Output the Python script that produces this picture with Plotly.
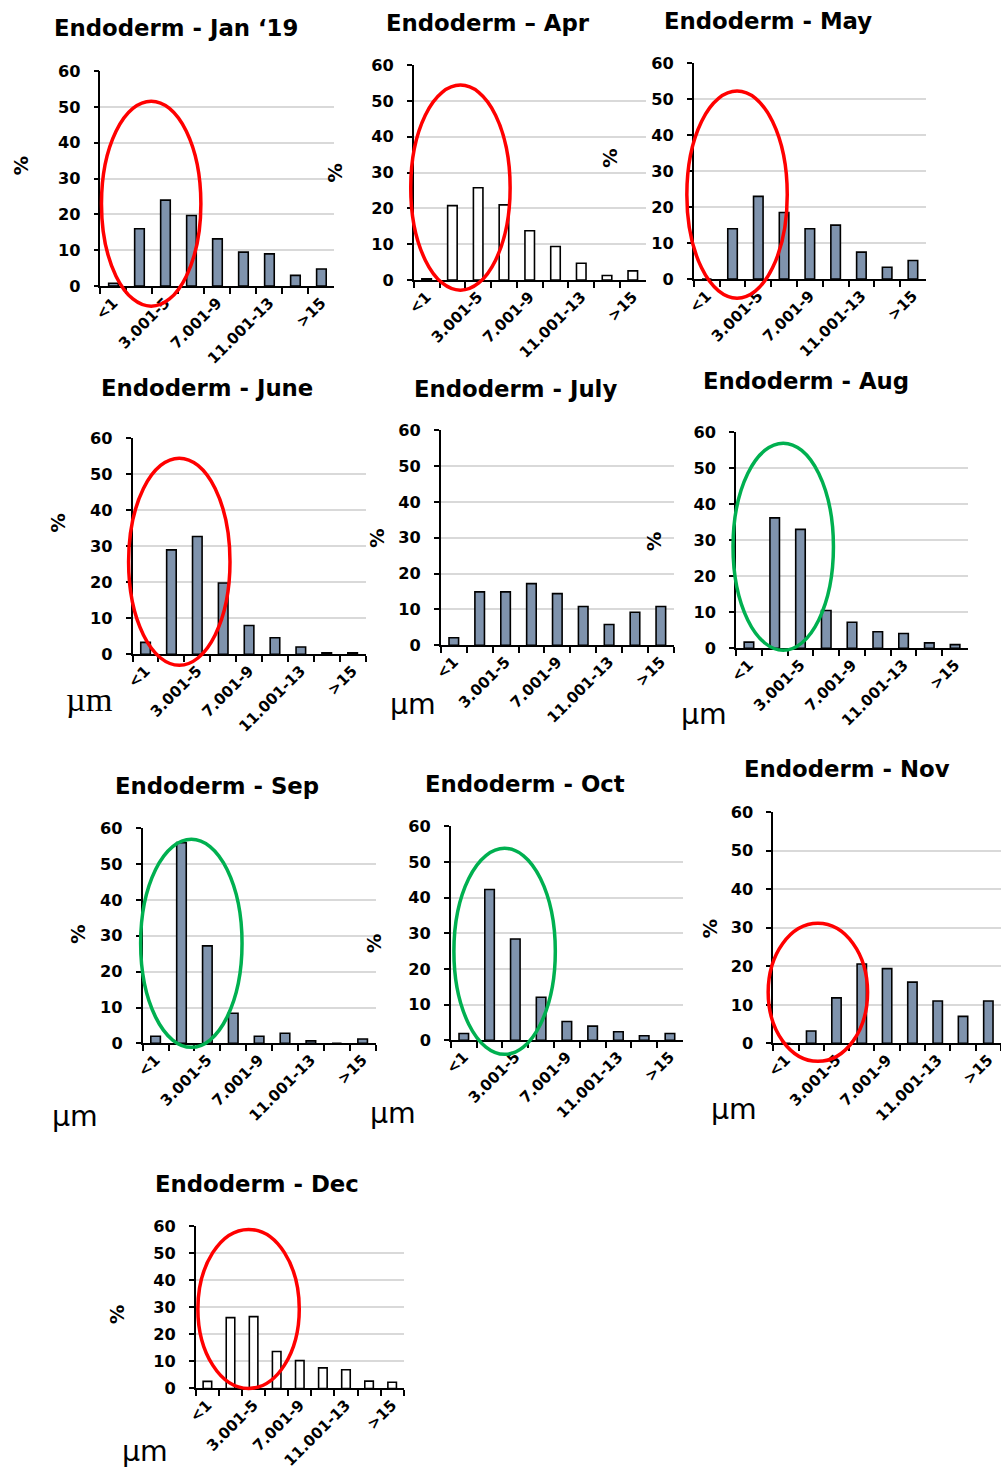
import plotly.graph_objects as go

# The rendered page is photographed with an 8px body margin and a slight
# (~0.987) down-scale; positions below are given in reference pixels and
# mapped to figure coordinates accordingly.
S, M = 0.987, 8
W, H = 1001, 1488


def fx(px):
    return (px / S - M) / W


def fy(py):
    return 1 - (py / S - M) / H


def clamp(v):
    return max(0.0, min(1.0, v))


def fs(size):
    return round(size / S, 1)


categories = ["<1", "1.001-3", "3.001-5", "5.001-7", "7.001-9",
              "9.001-11", "11.001-13", "13.001-15", ">15"]
tick_text = [c if i % 2 == 0 else "" for i, c in enumerate(categories)]

titles = ["Endoderm - Jan \u201819", "Endoderm \u2013 Apr", "Endoderm - May",
          "Endoderm - June", "Endoderm - July", "Endoderm - Aug",
          "Endoderm - Sep", "Endoderm - Oct", "Endoderm - Nov",
          "Endoderm - Dec"]

jan = [0.8, 16.0, 24.0, 19.7, 13.2, 9.5, 9.0, 3.0, 4.8]
apr = [0.4, 20.8, 25.8, 21.0, 13.8, 9.4, 4.7, 1.3, 2.6]
may = [0.0, 14.0, 23.0, 18.5, 14.0, 15.0, 7.5, 3.3, 5.2]
june = [3.3, 29.0, 32.7, 19.8, 8.0, 4.6, 2.0, 0.4, 0.4]
july = [2.1, 14.9, 14.9, 17.2, 14.4, 10.8, 5.8, 9.2, 10.8]
aug = [1.7, 36.2, 33.0, 10.5, 7.2, 4.6, 4.1, 1.5, 1.0]
sep = [2.0, 56.0, 27.2, 8.4, 2.0, 2.8, 0.7, 0.0, 1.2]
oct_ = [1.9, 42.3, 28.4, 12.1, 5.3, 4.0, 2.4, 1.3, 1.9]
nov = [0.0, 3.2, 11.8, 20.6, 19.4, 15.9, 11.0, 7.0, 11.0]
dec = [2.6, 26.2, 26.6, 13.7, 10.3, 7.6, 6.9, 2.7, 2.3]

series = [jan, apr, may, june, july, aug, sep, oct_, nov, dec]
hollow = [False, True, False, False, False, False, False, False, False, True]

# plot areas in reference pixels: (left, right, top(60), bottom(0))
boxes = [(99, 332, 70, 285), (411, 642, 64, 279), (690, 921, 62, 278),
         (131, 363, 437, 653), (438, 670, 429, 644), (732, 963, 431, 647),
         (141, 373, 827, 1042), (448, 679, 825, 1039), (769, 1000, 811, 1042),
         (194, 401, 1225, 1387)]
title_pos = [(174, 27), (485, 22), (764, 20), (205, 387), (512, 388), (802, 380),
             (215, 785), (522, 783), (843, 768), (255, 1183)]
pct_pos = [(20, 165), (333, 172), (607, 157), (57, 522), (375, 537), (651, 540),
           (77, 933), (372, 942), (706, 927), (116, 1313)]
um_pos = [None, None, None, (88, 698), (410, 703), (700, 713),
          (74, 1115), (390, 1112), (730, 1108), (143, 1450)]
# ellipses: (left, right, top, bottom, color)
RED, GREEN = "#ff0000", "#00b050"
ellipses = [(100, 199, 100, 305, RED), (408, 507, 84, 289, RED), (683, 783, 90, 297, RED),
            (127, 228, 457, 664, RED), (729, 829, 442, 649, GREEN),
            (139, 240, 838, 1046, GREEN), (451, 552, 847, 1053, GREEN),
            (764, 863, 922, 1060, RED), (196, 297, 1228, 1387, RED)]

FONT = "DejaVu Sans"
fig = go.Figure()
annotations = []
shapes = []

for i, vals in enumerate(series):
    n = "" if i == 0 else str(i + 1)
    xa, ya = "x" + n, "y" + n
    fig.add_trace(go.Bar(
        x=categories, y=vals, xaxis=xa, yaxis=ya, width=0.37,
        marker=dict(color="white" if hollow[i] else "#7f93ad",
                    line=dict(color="black", width=1.6)),
        showlegend=False))
    l, r, t, b = boxes[i]
    fig.layout["xaxis" + n] = dict(
        domain=[clamp(fx(l)), clamp(fx(r))], anchor=ya, type="category",
        categoryorder="array", categoryarray=categories,
        tickmode="array", tickvals=categories, ticktext=tick_text,
        tickson="boundaries", ticks="outside", ticklen=6, tickwidth=1.5,
        tickcolor="black", tickangle=-45, showline=True, linecolor="black",
        linewidth=1.5, showgrid=False, range=[-0.5, 8.5],
        tickfont=dict(family=FONT, size=fs(15), color="black", weight="bold"))
    fig.layout["yaxis" + n] = dict(
        domain=[clamp(fy(b)), clamp(fy(t))], anchor=xa, range=[0, 60], dtick=10,
        ticks="outside", ticklen=5, tickwidth=1.5, tickcolor="black",
        showline=True, linecolor="black", linewidth=1.5,
        showgrid=True, gridcolor="#d9d9d9", gridwidth=1.5, zeroline=False,
        ticklabelstandoff=10,
        tickfont=dict(family=FONT, size=fs(16), color="black", weight="bold"))
    tx, ty = title_pos[i]
    annotations.append(dict(text=titles[i], x=fx(tx), y=fy(ty), xref="paper",
                            yref="paper", showarrow=False, xanchor="center",
                            yanchor="middle",
                            font=dict(family=FONT, size=fs(22.5), color="black",
                                      weight="bold")))
    px, py = pct_pos[i]
    annotations.append(dict(text="%", x=fx(px), y=fy(py), xref="paper",
                            yref="paper", showarrow=False, textangle=-90,
                            xanchor="center", yanchor="middle",
                            font=dict(family=FONT, size=fs(19), color="black",
                                      weight="bold")))
    if um_pos[i]:
        ux, uy = um_pos[i]
        serif = (i == 3)
        annotations.append(dict(text="\u00b5m", x=fx(ux), y=fy(uy),
                                xref="paper", yref="paper", showarrow=False,
                                xanchor="center", yanchor="middle",
                                font=dict(family="Liberation Serif" if serif else FONT,
                                          size=fs(34 if serif else 28), color="black")))

for (l, r, t, b, c) in ellipses:
    shapes.append(dict(type="circle", xref="paper", yref="paper",
                       x0=fx(l), x1=fx(r), y0=fy(b), y1=fy(t),
                       line=dict(color=c, width=3.5), fillcolor="rgba(0,0,0,0)"))

fig.update_layout(width=W, height=H, margin=dict(l=0, r=0, t=0, b=0),
                  paper_bgcolor="white", plot_bgcolor="white", bargap=0.6,
                  annotations=annotations, shapes=shapes)

fig.write_html("out.html")
